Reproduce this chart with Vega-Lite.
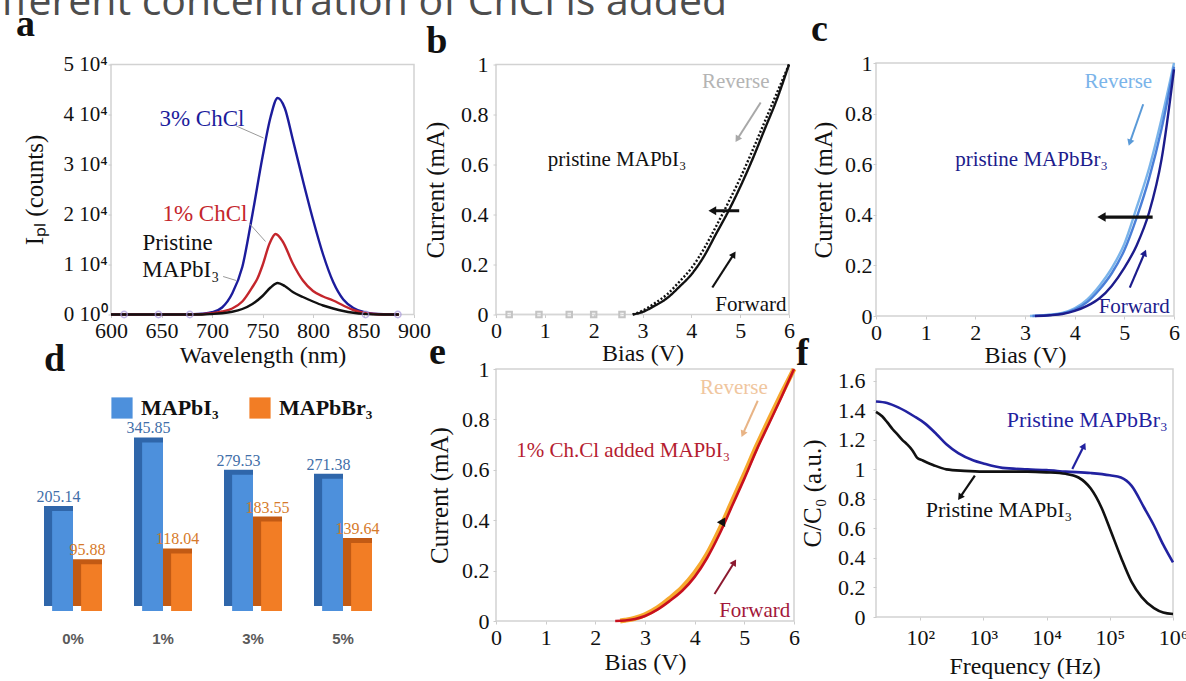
{
"$schema": "https://vega.github.io/schema/vega-lite/v6.json",
"padding": {"left": 0, "top": -20, "right": 0, "bottom": 0},
"background": "#ffffff",
"config": {
 "font": "Liberation Serif",
 "view": {"stroke": "#d2d2d2", "strokeWidth": 1.5},
 "axis": {"domain": false, "grid": false, "tickColor": "#cccccc", "tickSize": 3, "labelFont": "Liberation Serif", "labelFontSize": 22, "labelColor": "#111111", "labelFlush": false, "labelOverlap": false, "titleFont": "Liberation Serif", "titleFontSize": 24, "titleFontWeight": "normal", "titleColor": "#111111"},
 "text": {"font": "Liberation Serif"}
},
"datasets": {
 "pl": [
  {"wl":600,"counts":0,"sample":"3% ChCl"},{"wl":620,"counts":0,"sample":"3% ChCl"},{"wl":640,"counts":0,"sample":"3% ChCl"},{"wl":660,"counts":0,"sample":"3% ChCl"},{"wl":680,"counts":60,"sample":"3% ChCl"},{"wl":690,"counts":150,"sample":"3% ChCl"},{"wl":700,"counts":450,"sample":"3% ChCl"},{"wl":710,"counts":1400,"sample":"3% ChCl"},{"wl":720,"counts":4200,"sample":"3% ChCl"},{"wl":730,"counts":9500,"sample":"3% ChCl"},{"wl":740,"counts":20000,"sample":"3% ChCl"},{"wl":750,"counts":31500,"sample":"3% ChCl"},{"wl":758,"counts":39500,"sample":"3% ChCl"},{"wl":765,"counts":43300,"sample":"3% ChCl"},{"wl":772,"counts":41300,"sample":"3% ChCl"},{"wl":780,"counts":35000,"sample":"3% ChCl"},{"wl":790,"counts":26800,"sample":"3% ChCl"},{"wl":800,"counts":19000,"sample":"3% ChCl"},{"wl":810,"counts":12000,"sample":"3% ChCl"},{"wl":820,"counts":6500,"sample":"3% ChCl"},{"wl":830,"counts":3000,"sample":"3% ChCl"},{"wl":840,"counts":1300,"sample":"3% ChCl"},{"wl":850,"counts":500,"sample":"3% ChCl"},{"wl":860,"counts":150,"sample":"3% ChCl"},{"wl":870,"counts":40,"sample":"3% ChCl"},{"wl":885,"counts":0,"sample":"3% ChCl"},
  {"wl":600,"counts":0,"sample":"1% ChCl"},{"wl":640,"counts":0,"sample":"1% ChCl"},{"wl":680,"counts":0,"sample":"1% ChCl"},{"wl":700,"counts":250,"sample":"1% ChCl"},{"wl":710,"counts":600,"sample":"1% ChCl"},{"wl":720,"counts":1200,"sample":"1% ChCl"},{"wl":730,"counts":2600,"sample":"1% ChCl"},{"wl":740,"counts":5500,"sample":"1% ChCl"},{"wl":745,"counts":7200,"sample":"1% ChCl"},{"wl":750,"counts":9800,"sample":"1% ChCl"},{"wl":757,"counts":14200,"sample":"1% ChCl"},{"wl":763,"counts":16100,"sample":"1% ChCl"},{"wl":770,"counts":14600,"sample":"1% ChCl"},{"wl":780,"counts":10200,"sample":"1% ChCl"},{"wl":790,"counts":6800,"sample":"1% ChCl"},{"wl":800,"counts":4700,"sample":"1% ChCl"},{"wl":810,"counts":3600,"sample":"1% ChCl"},{"wl":820,"counts":2800,"sample":"1% ChCl"},{"wl":830,"counts":1800,"sample":"1% ChCl"},{"wl":840,"counts":900,"sample":"1% ChCl"},{"wl":850,"counts":350,"sample":"1% ChCl"},{"wl":860,"counts":100,"sample":"1% ChCl"},{"wl":870,"counts":0,"sample":"1% ChCl"},{"wl":885,"counts":0,"sample":"1% ChCl"},
  {"wl":600,"counts":0,"sample":"Pristine MAPbI₃"},{"wl":640,"counts":0,"sample":"Pristine MAPbI₃"},{"wl":690,"counts":0,"sample":"Pristine MAPbI₃"},{"wl":700,"counts":100,"sample":"Pristine MAPbI₃"},{"wl":710,"counts":250,"sample":"Pristine MAPbI₃"},{"wl":720,"counts":550,"sample":"Pristine MAPbI₃"},{"wl":730,"counts":1100,"sample":"Pristine MAPbI₃"},{"wl":740,"counts":2100,"sample":"Pristine MAPbI₃"},{"wl":750,"counts":3700,"sample":"Pristine MAPbI₃"},{"wl":758,"counts":5400,"sample":"Pristine MAPbI₃"},{"wl":765,"counts":6300,"sample":"Pristine MAPbI₃"},{"wl":772,"counts":5700,"sample":"Pristine MAPbI₃"},{"wl":780,"counts":4500,"sample":"Pristine MAPbI₃"},{"wl":790,"counts":3500,"sample":"Pristine MAPbI₃"},{"wl":800,"counts":2600,"sample":"Pristine MAPbI₃"},{"wl":810,"counts":1800,"sample":"Pristine MAPbI₃"},{"wl":820,"counts":1200,"sample":"Pristine MAPbI₃"},{"wl":830,"counts":700,"sample":"Pristine MAPbI₃"},{"wl":840,"counts":350,"sample":"Pristine MAPbI₃"},{"wl":850,"counts":120,"sample":"Pristine MAPbI₃"},{"wl":860,"counts":30,"sample":"Pristine MAPbI₃"},{"wl":870,"counts":0,"sample":"Pristine MAPbI₃"},{"wl":885,"counts":0,"sample":"Pristine MAPbI₃"}
 ],
 "plMarks": [{"wl":613,"counts":0},{"wl":647,"counts":0},{"wl":678,"counts":0},{"wl":852,"counts":0},{"wl":884,"counts":0}],
 "plLeaders": [
  {"wl":724,"counts":37700,"wl2":751,"counts2":35300},
  {"wl":737,"counts":18200,"wl2":753,"counts2":14600},
  {"wl":711,"counts":7600,"wl2":724,"counts2":6800}
 ],
 "plLabels": [
  {"wl":690,"counts":37800,"label":"3% ChCl","sample":"3% ChCl"},
  {"wl":693,"counts":18800,"label":"1% ChCl","sample":"1% ChCl"},
  {"wl":666,"counts":12900,"label":"Pristine","sample":"Pristine MAPbI₃"},
  {"wl":669,"counts":7600,"label":"MAPbI₃","sample":"Pristine MAPbI₃"}
 ],
 "ivB": [
  {"v":2.8,"i":0,"dir":"Forward"},{"v":3.0,"i":0.01,"dir":"Forward"},{"v":3.25,"i":0.035,"dir":"Forward"},{"v":3.5,"i":0.065,"dir":"Forward"},{"v":3.75,"i":0.11,"dir":"Forward"},{"v":4.0,"i":0.16,"dir":"Forward"},{"v":4.25,"i":0.23,"dir":"Forward"},{"v":4.5,"i":0.32,"dir":"Forward"},{"v":4.75,"i":0.41,"dir":"Forward"},{"v":5.0,"i":0.51,"dir":"Forward"},{"v":5.25,"i":0.62,"dir":"Forward"},{"v":5.5,"i":0.74,"dir":"Forward"},{"v":5.75,"i":0.86,"dir":"Forward"},{"v":6.0,"i":1.0,"dir":"Forward"},
  {"v":2.8,"i":0,"dir":"Reverse"},{"v":3.0,"i":0.015,"dir":"Reverse"},{"v":3.25,"i":0.045,"dir":"Reverse"},{"v":3.5,"i":0.08,"dir":"Reverse"},{"v":3.75,"i":0.13,"dir":"Reverse"},{"v":4.0,"i":0.185,"dir":"Reverse"},{"v":4.25,"i":0.26,"dir":"Reverse"},{"v":4.5,"i":0.35,"dir":"Reverse"},{"v":4.75,"i":0.445,"dir":"Reverse"},{"v":5.0,"i":0.545,"dir":"Reverse"},{"v":5.25,"i":0.655,"dir":"Reverse"},{"v":5.5,"i":0.77,"dir":"Reverse"},{"v":5.75,"i":0.885,"dir":"Reverse"},{"v":6.0,"i":1.0,"dir":"Reverse"}
 ],
 "baseB": [{"v":0.27,"i":0},{"v":0.88,"i":0},{"v":1.5,"i":0},{"v":2.0,"i":0},{"v":2.58,"i":0}],
 "ivC": [
  {"v":3.1,"i":0,"dir":"rev1"},{"v":3.5,"i":0.005,"dir":"rev1"},{"v":3.75,"i":0.012,"dir":"rev1"},{"v":4.0,"i":0.03,"dir":"rev1"},{"v":4.25,"i":0.065,"dir":"rev1"},{"v":4.5,"i":0.12,"dir":"rev1"},{"v":4.75,"i":0.19,"dir":"rev1"},{"v":5.0,"i":0.285,"dir":"rev1"},{"v":5.25,"i":0.43,"dir":"rev1"},{"v":5.5,"i":0.585,"dir":"rev1"},{"v":5.75,"i":0.78,"dir":"rev1"},{"v":6.0,"i":1.0,"dir":"rev1"},
  {"v":3.15,"i":0,"dir":"rev2"},{"v":3.5,"i":0.004,"dir":"rev2"},{"v":3.75,"i":0.01,"dir":"rev2"},{"v":4.0,"i":0.025,"dir":"rev2"},{"v":4.25,"i":0.055,"dir":"rev2"},{"v":4.5,"i":0.105,"dir":"rev2"},{"v":4.75,"i":0.17,"dir":"rev2"},{"v":5.0,"i":0.26,"dir":"rev2"},{"v":5.25,"i":0.39,"dir":"rev2"},{"v":5.5,"i":0.545,"dir":"rev2"},{"v":5.75,"i":0.74,"dir":"rev2"},{"v":6.0,"i":0.985,"dir":"rev2"},
  {"v":3.2,"i":0,"dir":"fwd"},{"v":3.5,"i":0.003,"dir":"fwd"},{"v":3.75,"i":0.008,"dir":"fwd"},{"v":4.0,"i":0.02,"dir":"fwd"},{"v":4.25,"i":0.04,"dir":"fwd"},{"v":4.5,"i":0.07,"dir":"fwd"},{"v":4.75,"i":0.12,"dir":"fwd"},{"v":5.0,"i":0.19,"dir":"fwd"},{"v":5.25,"i":0.28,"dir":"fwd"},{"v":5.5,"i":0.41,"dir":"fwd"},{"v":5.75,"i":0.62,"dir":"fwd"},{"v":6.0,"i":0.975,"dir":"fwd"}
 ],
 "ivE": [
  {"v":2.4,"i":0,"dir":"Forward"},{"v":2.6,"i":0.002,"dir":"Forward"},{"v":2.8,"i":0.008,"dir":"Forward"},{"v":3.0,"i":0.02,"dir":"Forward"},{"v":3.25,"i":0.045,"dir":"Forward"},{"v":3.5,"i":0.08,"dir":"Forward"},{"v":3.75,"i":0.12,"dir":"Forward"},{"v":4.0,"i":0.175,"dir":"Forward"},{"v":4.25,"i":0.25,"dir":"Forward"},{"v":4.5,"i":0.345,"dir":"Forward"},{"v":4.75,"i":0.455,"dir":"Forward"},{"v":5.0,"i":0.565,"dir":"Forward"},{"v":5.25,"i":0.68,"dir":"Forward"},{"v":5.5,"i":0.785,"dir":"Forward"},{"v":5.75,"i":0.89,"dir":"Forward"},{"v":6.0,"i":1.0,"dir":"Forward"},
  {"v":2.5,"i":0,"dir":"Reverse"},{"v":2.6,"i":0.003,"dir":"Reverse"},{"v":2.8,"i":0.011,"dir":"Reverse"},{"v":3.0,"i":0.025,"dir":"Reverse"},{"v":3.25,"i":0.052,"dir":"Reverse"},{"v":3.5,"i":0.09,"dir":"Reverse"},{"v":3.75,"i":0.133,"dir":"Reverse"},{"v":4.0,"i":0.19,"dir":"Reverse"},{"v":4.25,"i":0.265,"dir":"Reverse"},{"v":4.5,"i":0.362,"dir":"Reverse"},{"v":4.75,"i":0.472,"dir":"Reverse"},{"v":5.0,"i":0.582,"dir":"Reverse"},{"v":5.25,"i":0.695,"dir":"Reverse"},{"v":5.5,"i":0.8,"dir":"Reverse"},{"v":5.75,"i":0.902,"dir":"Reverse"},{"v":6.0,"i":1.0,"dir":"Reverse"}
 ],
 "cf": [
  {"f":20,"c":1.46,"sample":"Pristine MAPbBr₃"},{"f":30,"c":1.45,"sample":"Pristine MAPbBr₃"},{"f":45,"c":1.42,"sample":"Pristine MAPbBr₃"},{"f":80,"c":1.36,"sample":"Pristine MAPbBr₃"},{"f":120,"c":1.31,"sample":"Pristine MAPbBr₃"},{"f":180,"c":1.24,"sample":"Pristine MAPbBr₃"},{"f":260,"c":1.17,"sample":"Pristine MAPbBr₃"},{"f":400,"c":1.11,"sample":"Pristine MAPbBr₃"},{"f":700,"c":1.06,"sample":"Pristine MAPbBr₃"},{"f":1000,"c":1.04,"sample":"Pristine MAPbBr₃"},{"f":2000,"c":1.01,"sample":"Pristine MAPbBr₃"},{"f":5000,"c":1.0,"sample":"Pristine MAPbBr₃"},{"f":10000,"c":0.995,"sample":"Pristine MAPbBr₃"},{"f":20000,"c":0.985,"sample":"Pristine MAPbBr₃"},{"f":50000,"c":0.975,"sample":"Pristine MAPbBr₃"},{"f":100000,"c":0.96,"sample":"Pristine MAPbBr₃"},{"f":150000,"c":0.945,"sample":"Pristine MAPbBr₃"},{"f":220000,"c":0.89,"sample":"Pristine MAPbBr₃"},{"f":350000,"c":0.74,"sample":"Pristine MAPbBr₃"},{"f":500000,"c":0.62,"sample":"Pristine MAPbBr₃"},{"f":700000,"c":0.49,"sample":"Pristine MAPbBr₃"},{"f":1000000,"c":0.37,"sample":"Pristine MAPbBr₃"},
  {"f":20,"c":1.39,"sample":"Pristine MAPbI₃"},{"f":25,"c":1.36,"sample":"Pristine MAPbI₃"},{"f":30,"c":1.32,"sample":"Pristine MAPbI₃"},{"f":37,"c":1.27,"sample":"Pristine MAPbI₃"},{"f":43,"c":1.24,"sample":"Pristine MAPbI₃"},{"f":52,"c":1.2,"sample":"Pristine MAPbI₃"},{"f":62,"c":1.17,"sample":"Pristine MAPbI₃"},{"f":75,"c":1.13,"sample":"Pristine MAPbI₃"},{"f":89,"c":1.08,"sample":"Pristine MAPbI₃"},{"f":110,"c":1.06,"sample":"Pristine MAPbI₃"},{"f":128,"c":1.047,"sample":"Pristine MAPbI₃"},{"f":160,"c":1.03,"sample":"Pristine MAPbI₃"},{"f":260,"c":1.0,"sample":"Pristine MAPbI₃"},{"f":500,"c":0.99,"sample":"Pristine MAPbI₃"},{"f":1000,"c":0.985,"sample":"Pristine MAPbI₃"},{"f":5000,"c":0.985,"sample":"Pristine MAPbI₃"},{"f":10000,"c":0.98,"sample":"Pristine MAPbI₃"},{"f":20000,"c":0.97,"sample":"Pristine MAPbI₃"},{"f":32000,"c":0.945,"sample":"Pristine MAPbI₃"},{"f":50000,"c":0.87,"sample":"Pristine MAPbI₃"},{"f":74000,"c":0.74,"sample":"Pristine MAPbI₃"},{"f":100000,"c":0.6,"sample":"Pristine MAPbI₃"},{"f":150000,"c":0.405,"sample":"Pristine MAPbI₃"},{"f":220000,"c":0.24,"sample":"Pristine MAPbI₃"},{"f":320000,"c":0.135,"sample":"Pristine MAPbI₃"},{"f":500000,"c":0.06,"sample":"Pristine MAPbI₃"},{"f":700000,"c":0.03,"sample":"Pristine MAPbI₃"},{"f":1000000,"c":0.02,"sample":"Pristine MAPbI₃"}
 ],
 "bars": [
  {"conc":"0%","material":"MAPbI₃","value":205.14},{"conc":"0%","material":"MAPbBr₃","value":95.88},
  {"conc":"1%","material":"MAPbI₃","value":345.85},{"conc":"1%","material":"MAPbBr₃","value":118.04},
  {"conc":"3%","material":"MAPbI₃","value":279.53},{"conc":"3%","material":"MAPbBr₃","value":183.55},
  {"conc":"5%","material":"MAPbI₃","value":271.38},{"conc":"5%","material":"MAPbBr₃","value":139.64}
 ]
},
"columns": 3,
"bounds": "flush",
"center": true,
"align": "each",
"spacing": {"row": 53, "column": 82},
"resolve": {"scale": {"color": "independent", "strokeDash": "independent"}},
"concat": [
  {"width": 303, "height": 250,
   "layer": [
    {"data": {"name": "pl"}, "mark": {"type": "line", "strokeWidth": 2.4, "interpolate": "monotone"},
     "encoding": {
      "x": {"field": "wl", "type": "quantitative", "scale": {"domain": [600, 900], "nice": false}, "axis": {"values": [600,650,700,750,800,850,900], "tickCount": 10, "format": "d", "title": "Wavelength (nm)", "labelFont": "Liberation Serif", "labelFontSize": 22, "labelOverlap": false, "titleFont": "Liberation Serif", "titleFontSize": 24, "titleFontWeight": "normal", "labelPadding": 3, "titlePadding": 2}},
      "y": {"field": "counts", "type": "quantitative", "scale": {"domain": [0, 50000], "nice": false}, "axis": {"values": [0,10000,20000,30000,40000,50000], "tickCount": 10, "title": "Iₚₗ (counts)", "labelExpr": "datum.value === 0 ? '0 10⁰' : (datum.value / 10000) + ' 10⁴'", "labelFont": "Liberation Serif", "labelFontSize": 21, "labelOverlap": false, "titleFont": "Liberation Serif", "titleFontSize": 25, "titleFontWeight": "normal", "labelPadding": 1, "titlePadding": 15}},
      "color": {"field": "sample", "type": "nominal", "scale": {"domain": ["3% ChCl", "1% ChCl", "Pristine MAPbI₃"], "range": ["#1c1c9c", "#c4262c", "#111111"]}, "legend": null}
     }},
    {"data": {"name": "plMarks"}, "mark": {"type": "point", "shape": "circle", "filled": false, "color": "#a898dc", "size": 40, "strokeWidth": 1.5},
     "encoding": {"x": {"field": "wl", "type": "quantitative"}, "y": {"field": "counts", "type": "quantitative"}}},
    {"data": {"name": "plLeaders"}, "mark": {"type": "rule", "color": "#9a9a9a", "strokeWidth": 1},
     "encoding": {"x": {"field": "wl", "type": "quantitative"}, "y": {"field": "counts", "type": "quantitative"}, "x2": {"field": "wl2"}, "y2": {"field": "counts2"}}},
    {"data": {"name": "plLabels"}, "mark": {"type": "text", "font": "Liberation Serif", "fontSize": 23, "align": "center", "baseline": "alphabetic"},
     "encoding": {"x": {"field": "wl", "type": "quantitative"}, "y": {"field": "counts", "type": "quantitative"}, "text": {"field": "label"}, "color": {"field": "sample", "type": "nominal", "legend": null}}},
    {"data": {"values": [{"wl": 506, "counts": 55800, "t": "a"}]}, "mark": {"type": "text", "font": "Liberation Serif", "fontSize": 38, "fontWeight": "bold", "align": "left", "baseline": "alphabetic", "color": "#111111"},
     "encoding": {"x": {"field": "wl", "type": "quantitative"}, "y": {"field": "counts", "type": "quantitative"}, "text": {"field": "t"}}},
    {"data": {"values": [{"wl": 491, "counts": 60000, "t": "fferent concentration of ChCl is added"}]}, "mark": {"type": "text", "font": "Open Sans", "fontSize": 41, "align": "left", "baseline": "alphabetic", "color": "#4d4d4d"},
     "encoding": {"x": {"field": "wl", "type": "quantitative"}, "y": {"field": "counts", "type": "quantitative"}, "text": {"field": "t"}}}
   ]},
  {"width": 293, "height": 250,
   "layer": [
    {"data": {"name": "baseB"}, "mark": {"type": "line", "color": "#d6d6d6", "strokeWidth": 1.5, "point": {"shape": "square", "filled": false, "color": "#c4c4c4", "size": 30}},
     "encoding": {"x": {"field": "v", "type": "quantitative"}, "y": {"field": "i", "type": "quantitative"}}},
    {"data": {"name": "ivB"}, "mark": {"type": "line", "strokeWidth": 2.4, "interpolate": "monotone", "color": "#111111"},
     "encoding": {
      "x": {"field": "v", "type": "quantitative", "scale": {"domain": [0, 6], "nice": false}, "axis": {"values": [0,1,2,3,4,5,6], "tickCount": 10, "format": "d", "title": "Bias (V)", "labelFont": "Liberation Serif", "labelFontSize": 22, "labelOverlap": false, "titleFont": "Liberation Serif", "titleFontSize": 24, "titleFontWeight": "normal", "labelPadding": 3, "titlePadding": 0}},
      "y": {"field": "i", "type": "quantitative", "scale": {"domain": [0, 1], "nice": false}, "axis": {"values": [0,0.2,0.4,0.6,0.8,1], "tickCount": 10, "format": "~g", "title": "Current (mA)", "labelFont": "Liberation Serif", "labelFontSize": 22, "labelOverlap": false, "titleFont": "Liberation Serif", "titleFontSize": 25, "titleFontWeight": "normal", "labelPadding": 5, "titlePadding": 12}},
      "strokeDash": {"field": "dir", "type": "nominal", "scale": {"domain": ["Forward","Reverse"], "range": [[1,0],[2,2]]}, "legend": null}
     }},
    {"data": {"values": [{"v": 4.91, "i": 0.908, "label": "Reverse", "k": "gray"}, {"v": 2.48, "i": 0.595, "label": "pristine MAPbI₃", "k": "black"}, {"v": 5.22, "i": 0.015, "label": "Forward", "k": "black"}]},
     "mark": {"type": "text", "font": "Liberation Serif", "fontSize": 21, "align": "center", "baseline": "alphabetic"},
     "encoding": {"x": {"field": "v", "type": "quantitative"}, "y": {"field": "i", "type": "quantitative"}, "text": {"field": "label"}, "color": {"field": "k", "type": "nominal", "scale": {"domain": ["gray","black"], "range": ["#b4b4b4","#111111"]}, "legend": null}}},
    {"data": {"values": [{"v": 5.42, "i": 0.848, "v2": 4.94, "i2": 0.701}]},
     "layer": [
      {"mark": {"type": "rule", "color": "#a8a8a8", "strokeWidth": 2}, "encoding": {"x": {"field": "v", "type": "quantitative"}, "y": {"field": "i", "type": "quantitative"}, "x2": {"field": "v2"}, "y2": {"field": "i2"}}},
      {"mark": {"type": "point", "shape": "triangle-up", "filled": true, "color": "#a8a8a8", "size": 55, "angle": 212, "opacity": 1}, "encoding": {"x": {"field": "v2", "type": "quantitative"}, "y": {"field": "i2", "type": "quantitative"}}}
     ]},
    {"data": {"values": [{"v": 4.43, "i": 0.108, "v2": 4.87, "i2": 0.241}]},
     "layer": [
      {"mark": {"type": "rule", "color": "#111111", "strokeWidth": 2.2}, "encoding": {"x": {"field": "v", "type": "quantitative"}, "y": {"field": "i", "type": "quantitative"}, "x2": {"field": "v2"}, "y2": {"field": "i2"}}},
      {"mark": {"type": "point", "shape": "triangle-up", "filled": true, "color": "#111111", "size": 55, "angle": 33, "opacity": 1}, "encoding": {"x": {"field": "v2", "type": "quantitative"}, "y": {"field": "i2", "type": "quantitative"}}}
     ]},
    {"data": {"values": [{"v": 4.98, "i": 0.415, "v2": 4.43, "i2": 0.415}]},
     "layer": [
      {"mark": {"type": "rule", "color": "#111111", "strokeWidth": 3}, "encoding": {"x": {"field": "v", "type": "quantitative"}, "y": {"field": "i", "type": "quantitative"}, "x2": {"field": "v2"}, "y2": {"field": "i2"}}},
      {"mark": {"type": "point", "shape": "triangle-up", "filled": true, "color": "#111111", "size": 80, "angle": 270, "opacity": 1}, "encoding": {"x": {"field": "v2", "type": "quantitative"}, "y": {"field": "i2", "type": "quantitative"}}}
     ]},
    {"data": {"values": [{"v": -1.43, "i": 1.045, "t": "b"}]}, "mark": {"type": "text", "font": "Liberation Serif", "fontSize": 38, "fontWeight": "bold", "align": "left", "baseline": "alphabetic", "color": "#111111"},
     "encoding": {"x": {"field": "v", "type": "quantitative"}, "y": {"field": "i", "type": "quantitative"}, "text": {"field": "t"}}}
   ]},
  {"width": 298, "height": 253,
   "layer": [
    {"data": {"name": "ivC"}, "mark": {"type": "line", "strokeWidth": 2.4, "interpolate": "monotone"},
     "encoding": {
      "x": {"field": "v", "type": "quantitative", "scale": {"domain": [0, 6], "nice": false}, "axis": {"values": [0,1,2,3,4,5,6], "tickCount": 10, "format": "d", "title": "Bias (V)", "labelFont": "Liberation Serif", "labelFontSize": 22, "labelOverlap": false, "titleFont": "Liberation Serif", "titleFontSize": 24, "titleFontWeight": "normal", "labelPadding": 3, "titlePadding": 0}},
      "y": {"field": "i", "type": "quantitative", "scale": {"domain": [0, 1], "nice": false}, "axis": {"values": [0,0.2,0.4,0.6,0.8,1], "tickCount": 10, "format": "~g", "title": "Current (mA)", "labelFont": "Liberation Serif", "labelFontSize": 22, "labelOverlap": false, "titleFont": "Liberation Serif", "titleFontSize": 25, "titleFontWeight": "normal", "labelPadding": 1, "titlePadding": 8}},
      "color": {"field": "dir", "type": "nominal", "scale": {"domain": ["rev1","rev2","fwd"], "range": ["#7ab4ea","#4a7fd8","#1c1c8c"]}, "legend": null}
     }},
    {"data": {"values": [{"v": 4.88, "i": 0.9, "label": "Reverse", "dir": "rev1"}, {"v": 3.13, "i": 0.593, "label": "pristine MAPbBr₃", "dir": "fwd"}, {"v": 5.2, "i": 0.013, "label": "Forward", "dir": "fwd"}]},
     "mark": {"type": "text", "font": "Liberation Serif", "fontSize": 21, "align": "center", "baseline": "alphabetic"},
     "encoding": {"x": {"field": "v", "type": "quantitative"}, "y": {"field": "i", "type": "quantitative"}, "text": {"field": "label"}, "color": {"field": "dir", "type": "nominal", "legend": null}}},
    {"data": {"values": [{"v": 5.38, "i": 0.837, "v2": 5.11, "i2": 0.685}]},
     "layer": [
      {"mark": {"type": "rule", "color": "#5a9ad8", "strokeWidth": 2}, "encoding": {"x": {"field": "v", "type": "quantitative"}, "y": {"field": "i", "type": "quantitative"}, "x2": {"field": "v2"}, "y2": {"field": "i2"}}},
      {"mark": {"type": "point", "shape": "triangle-up", "filled": true, "color": "#5a9ad8", "size": 55, "angle": 199, "opacity": 1}, "encoding": {"x": {"field": "v2", "type": "quantitative"}, "y": {"field": "i2", "type": "quantitative"}}}
     ]},
    {"data": {"values": [{"v": 5.11, "i": 0.112, "v2": 5.41, "i2": 0.25}]},
     "layer": [
      {"mark": {"type": "rule", "color": "#1c1c8c", "strokeWidth": 2.2}, "encoding": {"x": {"field": "v", "type": "quantitative"}, "y": {"field": "i", "type": "quantitative"}, "x2": {"field": "v2"}, "y2": {"field": "i2"}}},
      {"mark": {"type": "point", "shape": "triangle-up", "filled": true, "color": "#1c1c8c", "size": 55, "angle": 23, "opacity": 1}, "encoding": {"x": {"field": "v2", "type": "quantitative"}, "y": {"field": "i2", "type": "quantitative"}}}
     ]},
    {"data": {"values": [{"v": 5.57, "i": 0.391, "v2": 4.54, "i2": 0.391}]},
     "layer": [
      {"mark": {"type": "rule", "color": "#111111", "strokeWidth": 3.2}, "encoding": {"x": {"field": "v", "type": "quantitative"}, "y": {"field": "i", "type": "quantitative"}, "x2": {"field": "v2"}, "y2": {"field": "i2"}}},
      {"mark": {"type": "point", "shape": "triangle-up", "filled": true, "color": "#111111", "size": 90, "angle": 270, "opacity": 1}, "encoding": {"x": {"field": "v2", "type": "quantitative"}, "y": {"field": "i2", "type": "quantitative"}}}
     ]},
    {"data": {"values": [{"v": -1.31, "i": 1.087, "t": "c"}]}, "mark": {"type": "text", "font": "Liberation Serif", "fontSize": 38, "fontWeight": "bold", "align": "left", "baseline": "alphabetic", "color": "#111111"},
     "encoding": {"x": {"field": "v", "type": "quantitative"}, "y": {"field": "i", "type": "quantitative"}, "text": {"field": "t"}}}
   ]},
  {"width": 303, "height": 242,
   "view": {"stroke": null},
   "data": {"name": "bars"},
   "layer": [
    {"mark": {"type": "bar", "yOffset": -5},
     "encoding": {
      "x": {"field": "conc", "type": "nominal", "sort": ["0%","1%","3%","5%"], "scale": {"range": [-67, 261], "paddingInner": 0.3556, "paddingOuter": 0, "align": 0.5}, "axis": {"title": null, "domain": false, "ticks": false, "labelAngle": 0, "labelPadding": 20, "labelFont": "Liberation Sans", "labelFontWeight": "bold", "labelFontSize": 15, "labelColor": "#5a5a5a"}},
      "xOffset": {"field": "material", "type": "nominal", "scale": {"domain": ["MAPbI₃","MAPbBr₃"], "paddingInner": 0, "paddingOuter": 0}},
      "y": {"field": "value", "type": "quantitative", "scale": {"domain": [0, 496.4], "nice": false}, "axis": null},
      "color": {"field": "material", "type": "nominal", "scale": {"domain": ["MAPbI₃","MAPbBr₃"], "range": ["#2f66aa","#c25a14"]}, "legend": null}
     }},
    {"mark": {"type": "bar", "width": {"band": 0.72}, "xOffset": -4},
     "encoding": {
      "x": {"field": "conc", "type": "nominal", "sort": ["0%","1%","3%","5%"]},
      "xOffset": {"field": "material", "type": "nominal"},
      "y": {"field": "value", "type": "quantitative"},
      "color": {"field": "material", "type": "nominal", "scale": {"domain": ["MAPbI₃","MAPbBr₃"], "range": ["#4d90dc","#f27d25"]}, "legend": {"orient": "none", "legendX": 0, "legendY": 28, "direction": "horizontal", "title": null, "symbolType": "square", "symbolSize": 450, "symbolStrokeWidth": 0, "labelFont": "Liberation Serif", "labelFontSize": 22, "labelFontWeight": "bold", "labelColor": "#111111", "columnPadding": 30, "labelOffset": 8}}
     }},
    {"mark": {"type": "text", "font": "Liberation Serif", "fontSize": 16, "baseline": "alphabetic", "dy": -9},
     "encoding": {
      "x": {"field": "conc", "type": "nominal", "sort": ["0%","1%","3%","5%"]},
      "xOffset": {"field": "material", "type": "nominal"},
      "y": {"field": "value", "type": "quantitative"},
      "text": {"field": "value", "type": "quantitative", "format": ".2f"},
      "color": {"field": "material", "type": "nominal", "scale": {"domain": ["MAPbI₃","MAPbBr₃"], "range": ["#3f6ea8","#d67a2a"]}, "legend": null}
     }},
    {"data": {"values": [{"conc": "0%", "value": 492, "t": "d"}]}, "mark": {"type": "text", "font": "Liberation Serif", "fontSize": 38, "fontWeight": "bold", "align": "left", "baseline": "alphabetic", "color": "#111111"},
     "encoding": {"x": {"field": "conc", "type": "nominal", "bandPosition": 0}, "y": {"field": "value", "type": "quantitative"}, "text": {"field": "t"}}}
   ],
   "resolve": {"scale": {"color": "independent"}}},
  {"width": 298, "height": 252,
   "layer": [
    {"data": {"name": "ivE"}, "transform": [{"filter": "datum.dir === 'Reverse'"}], "mark": {"type": "line", "strokeWidth": 5, "interpolate": "monotone", "color": "#f6a92e"},
     "encoding": {
      "x": {"field": "v", "type": "quantitative", "scale": {"domain": [0, 6], "nice": false}, "axis": {"values": [0,1,2,3,4,5,6], "tickCount": 10, "format": "d", "title": "Bias (V)", "labelFont": "Liberation Serif", "labelFontSize": 22, "labelOverlap": false, "titleFont": "Liberation Serif", "titleFontSize": 24, "titleFontWeight": "normal", "labelPadding": 3, "titlePadding": 2}},
      "y": {"field": "i", "type": "quantitative", "scale": {"domain": [0, 1], "nice": false}, "axis": {"values": [0,0.2,0.4,0.6,0.8,1], "tickCount": 10, "format": "~g", "title": "Current (mA)", "labelFont": "Liberation Serif", "labelFontSize": 22, "labelOverlap": false, "titleFont": "Liberation Serif", "titleFontSize": 25, "titleFontWeight": "normal", "labelPadding": 4, "titlePadding": 9}}
     }},
    {"data": {"name": "ivE"}, "transform": [{"filter": "datum.dir === 'Forward'"}], "mark": {"type": "line", "strokeWidth": 2.6, "interpolate": "monotone", "color": "#c8101e"},
     "encoding": {"x": {"field": "v", "type": "quantitative"}, "y": {"field": "i", "type": "quantitative"}}},
    {"data": {"values": [{"v": 4.79, "i": 0.9, "label": "Reverse", "k": "rev"}, {"v": 2.56, "i": 0.65, "label": "1% Ch.Cl added MAPbI₃", "k": "name"}, {"v": 5.21, "i": 0.016, "label": "Forward", "k": "fwd"}]},
     "mark": {"type": "text", "font": "Liberation Serif", "fontSize": 21, "align": "center", "baseline": "alphabetic"},
     "encoding": {"x": {"field": "v", "type": "quantitative"}, "y": {"field": "i", "type": "quantitative"}, "text": {"field": "label"}, "color": {"field": "k", "type": "nominal", "scale": {"domain": ["rev","name","fwd"], "range": ["#f0c69e","#b51c30","#a3173a"]}, "legend": null}}},
    {"data": {"values": [{"v": 5.27, "i": 0.874, "v2": 4.97, "i2": 0.742}]},
     "layer": [
      {"mark": {"type": "rule", "color": "#e8b486", "strokeWidth": 2}, "encoding": {"x": {"field": "v", "type": "quantitative"}, "y": {"field": "i", "type": "quantitative"}, "x2": {"field": "v2"}, "y2": {"field": "i2"}}},
      {"mark": {"type": "point", "shape": "triangle-up", "filled": true, "color": "#e8b486", "size": 55, "angle": 204, "opacity": 1}, "encoding": {"x": {"field": "v2", "type": "quantitative"}, "y": {"field": "i2", "type": "quantitative"}}}
     ]},
    {"data": {"values": [{"v": 4.4, "i": 0.107, "v2": 4.8, "i2": 0.233}]},
     "layer": [
      {"mark": {"type": "rule", "color": "#8c1a30", "strokeWidth": 2}, "encoding": {"x": {"field": "v", "type": "quantitative"}, "y": {"field": "i", "type": "quantitative"}, "x2": {"field": "v2"}, "y2": {"field": "i2"}}},
      {"mark": {"type": "point", "shape": "triangle-up", "filled": true, "color": "#8c1a30", "size": 55, "angle": 32, "opacity": 1}, "encoding": {"x": {"field": "v2", "type": "quantitative"}, "y": {"field": "i2", "type": "quantitative"}}}
     ]},
    {"data": {"values": [{"v": 4.53, "i": 0.392}]}, "mark": {"type": "point", "shape": "triangle-up", "filled": true, "color": "#111111", "size": 90, "angle": 270, "opacity": 1},
     "encoding": {"x": {"field": "v", "type": "quantitative"}, "y": {"field": "i", "type": "quantitative"}}},
    {"data": {"values": [{"v": -1.35, "i": 1.02, "t": "e"}]}, "mark": {"type": "text", "font": "Liberation Serif", "fontSize": 38, "fontWeight": "bold", "align": "left", "baseline": "alphabetic", "color": "#111111"},
     "encoding": {"x": {"field": "v", "type": "quantitative"}, "y": {"field": "i", "type": "quantitative"}, "text": {"field": "t"}}}
   ]},
  {"width": 297, "height": 248,
   "layer": [
    {"data": {"name": "cf"}, "mark": {"type": "line", "strokeWidth": 2.6, "interpolate": "monotone"},
     "encoding": {
      "x": {"field": "f", "type": "quantitative", "scale": {"type": "log", "domain": [20, 1000000], "nice": false}, "axis": {"values": [100,1000,10000,100000,1000000], "tickCount": 10, "title": "Frequency (Hz)", "labelExpr": "datum.value == 100 ? '10²' : datum.value == 1000 ? '10³' : datum.value == 10000 ? '10⁴' : datum.value == 100000 ? '10⁵' : '10⁶'", "labelFont": "Liberation Serif", "labelFontSize": 22, "labelOverlap": false, "titleFont": "Liberation Serif", "titleFontSize": 24, "titleFontWeight": "normal", "labelPadding": 7, "titlePadding": 6}},
      "y": {"field": "c", "type": "quantitative", "scale": {"domain": [0, 1.68], "nice": false}, "axis": {"values": [0,0.2,0.4,0.6,0.8,1,1.2,1.4,1.6], "tickCount": 20, "format": "~g", "title": "C/C₀ (a.u.)", "labelFont": "Liberation Serif", "labelFontSize": 22, "labelOverlap": false, "titleFont": "Liberation Serif", "titleFontSize": 25, "titleFontWeight": "normal", "labelPadding": 8, "titlePadding": 12}},
      "color": {"field": "sample", "type": "nominal", "scale": {"domain": ["Pristine MAPbBr₃","Pristine MAPbI₃"], "range": ["#2222a0","#111111"]}, "legend": null}
     }},
    {"data": {"values": [{"f": 43900, "c": 1.284, "label": "Pristine MAPbBr₃", "sample": "Pristine MAPbBr₃"}, {"f": 1762, "c": 0.676, "label": "Pristine MAPbI₃", "sample": "Pristine MAPbI₃"}]},
     "mark": {"type": "text", "font": "Liberation Serif", "fontSize": 22, "align": "center", "baseline": "alphabetic"},
     "encoding": {"x": {"field": "f", "type": "quantitative"}, "y": {"field": "c", "type": "quantitative"}, "text": {"field": "label"}, "color": {"field": "sample", "type": "nominal", "legend": null}}},
    {"data": {"values": [{"f": 25500, "c": 1.002, "f2": 39000, "c2": 1.16}]},
     "layer": [
      {"mark": {"type": "rule", "color": "#2222a0", "strokeWidth": 2.2}, "encoding": {"x": {"field": "f", "type": "quantitative"}, "y": {"field": "c", "type": "quantitative"}, "x2": {"field": "f2"}, "y2": {"field": "c2"}}},
      {"mark": {"type": "point", "shape": "triangle-up", "filled": true, "color": "#2222a0", "size": 55, "angle": 27, "opacity": 1}, "encoding": {"x": {"field": "f2", "type": "quantitative"}, "y": {"field": "c2", "type": "quantitative"}}}
     ]},
    {"data": {"values": [{"f": 733, "c": 0.957, "f2": 426, "c2": 0.811}]},
     "layer": [
      {"mark": {"type": "rule", "color": "#111111", "strokeWidth": 2.2}, "encoding": {"x": {"field": "f", "type": "quantitative"}, "y": {"field": "c", "type": "quantitative"}, "x2": {"field": "f2"}, "y2": {"field": "c2"}}},
      {"mark": {"type": "point", "shape": "triangle-up", "filled": true, "color": "#111111", "size": 55, "angle": 215, "opacity": 1}, "encoding": {"x": {"field": "f2", "type": "quantitative"}, "y": {"field": "c2", "type": "quantitative"}}}
     ]},
    {"data": {"values": [{"f": 1.08, "c": 1.71, "t": "f"}]}, "mark": {"type": "text", "font": "Liberation Serif", "fontSize": 38, "fontWeight": "bold", "align": "left", "baseline": "alphabetic", "color": "#111111"},
     "encoding": {"x": {"field": "f", "type": "quantitative"}, "y": {"field": "c", "type": "quantitative"}, "text": {"field": "t"}}}
   ]}
]
}
